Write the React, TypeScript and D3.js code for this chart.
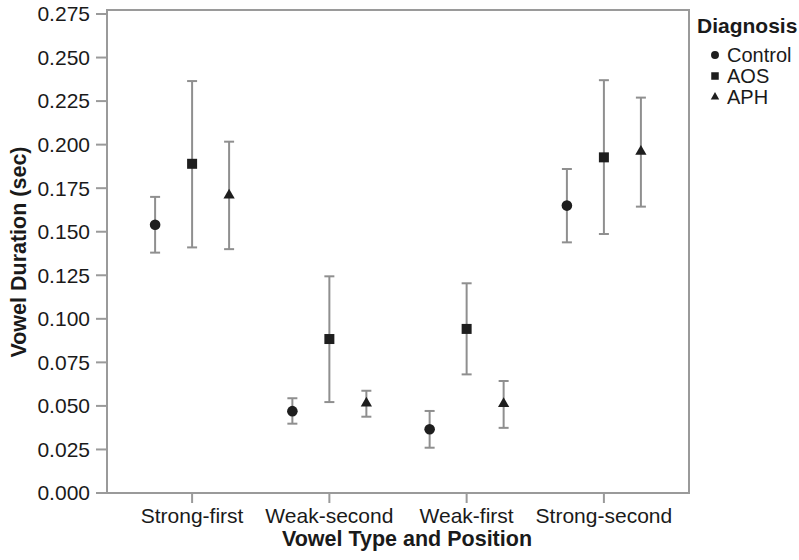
import React from "react";
import * as d3 from "d3";

const categories = ["Strong-first", "Weak-second", "Weak-first", "Strong-second"];
const groups = ["Control", "AOS", "APH"];
const meanControl = [0.154, 0.047, 0.0366, 0.165];
const meanAOS = [0.189, 0.0884, 0.0942, 0.1927];
const meanAPH = [0.171, 0.0515, 0.0513, 0.196];
const lowControl = [0.138, 0.0398, 0.026, 0.1439];
const lowAOS = [0.141, 0.0522, 0.0681, 0.1487];
const lowAPH = [0.140, 0.0438, 0.0374, 0.1644];
const highControl = [0.170, 0.0544, 0.0471, 0.186];
const highAOS = [0.2365, 0.1244, 0.1204, 0.237];
const highAPH = [0.2017, 0.0587, 0.0643, 0.227];
const yTicks = [0, 0.025, 0.05, 0.075, 0.1, 0.125, 0.15, 0.175, 0.2, 0.225, 0.25, 0.275];

const series = [
  { name: "Control", mean: meanControl, low: lowControl, high: highControl },
  { name: "AOS", mean: meanAOS, low: lowAOS, high: highAOS },
  { name: "APH", mean: meanAPH, low: lowAPH, high: highAPH },
];

const W = 799, H = 560;
const left = 107, right = 689, top = 10, bottom = 493;
const font = "'Liberation Sans', Arial, Helvetica, sans-serif";
const frameColor = "#9a9a9a";
const barColor = "#8f8f8f";
const markColor = "#1e1e1e";
const textColor = "#1a1a1a";

function Marker({ type, x, y, s }: { type: string; x: number; y: number; s: number }) {
  if (type === "Control") return <circle cx={x} cy={y} r={5.3 * s} fill={markColor} />;
  if (type === "AOS")
    return <rect x={x - 5 * s} y={y - 5 * s} width={10 * s} height={10 * s} fill={markColor} />;
  const sym = d3.symbol(d3.symbolTriangle, 55 * s * s)();
  return <path d={sym || ""} transform={`translate(${x},${y})`} fill={markColor} />;
}

export default function App() {
  const y = d3.scaleLinear().domain([0, 0.275]).range([bottom, 14]);
  const x = d3.scalePoint<string>().domain(categories).range([left, right]).padding(0.62);
  const off = d3.scalePoint<string>().domain(groups).range([-37, 37]);
  const fmt = d3.format(".3f");

  return (
    <svg width={W} height={H} style={{ position: "absolute", left: 0, top: 0, background: "#fff" }}>
      <rect x={left} y={top} width={right - left} height={bottom - top} fill="none" stroke={frameColor} strokeWidth={2} />
      {yTicks.map((t) => (
        <g key={t}>
          <line x1={96} x2={left} y1={y(t)} y2={y(t)} stroke={frameColor} strokeWidth={2} />
          <text x={90} y={y(t)} dy="0.35em" textAnchor="end" fontFamily={font} fontSize={21} fill={textColor}>
            {fmt(t)}
          </text>
        </g>
      ))}
      {categories.map((c) => (
        <g key={c}>
          <line x1={x(c)!} x2={x(c)!} y1={bottom} y2={bottom + 10} stroke={frameColor} strokeWidth={2} />
          <text x={x(c)!} y={523} textAnchor="middle" fontFamily={font} fontSize={21} fill={textColor}>
            {c}
          </text>
        </g>
      ))}
      {series.map((s) =>
        categories.map((c, i) => {
          const cx = x(c)! + off(s.name)!;
          return (
            <g key={s.name + c}>
              <line x1={cx} x2={cx} y1={y(s.low[i])} y2={y(s.high[i])} stroke={barColor} strokeWidth={2} />
              <line x1={cx - 5} x2={cx + 5} y1={y(s.low[i])} y2={y(s.low[i])} stroke={barColor} strokeWidth={2} />
              <line x1={cx - 5} x2={cx + 5} y1={y(s.high[i])} y2={y(s.high[i])} stroke={barColor} strokeWidth={2} />
              <Marker type={s.name} x={cx} y={y(s.mean[i])} s={1} />
            </g>
          );
        })
      )}
      <text x={407} y={546} textAnchor="middle" fontFamily={font} fontSize={21.5} fontWeight="bold" fill={textColor}>
        Vowel Type and Position
      </text>
      <text
        transform={`translate(26,${252}) rotate(-90)`}
        textAnchor="middle"
        fontFamily={font}
        fontSize={21.5}
        fontWeight="bold"
        fill={textColor}
      >
        Vowel Duration (sec)
      </text>
      <text x={697} y={33} fontFamily={font} fontSize={21} fontWeight="bold" fill={textColor}>
        Diagnosis
      </text>
      {groups.map((g, i) => (
        <g key={g}>
          <Marker type={g} x={715} y={55 + i * 21} s={0.75} />
          <text x={727} y={55 + i * 21} dy="0.35em" fontFamily={font} fontSize={20} fill={textColor}>
            {g}
          </text>
        </g>
      ))}
    </svg>
  );
}
